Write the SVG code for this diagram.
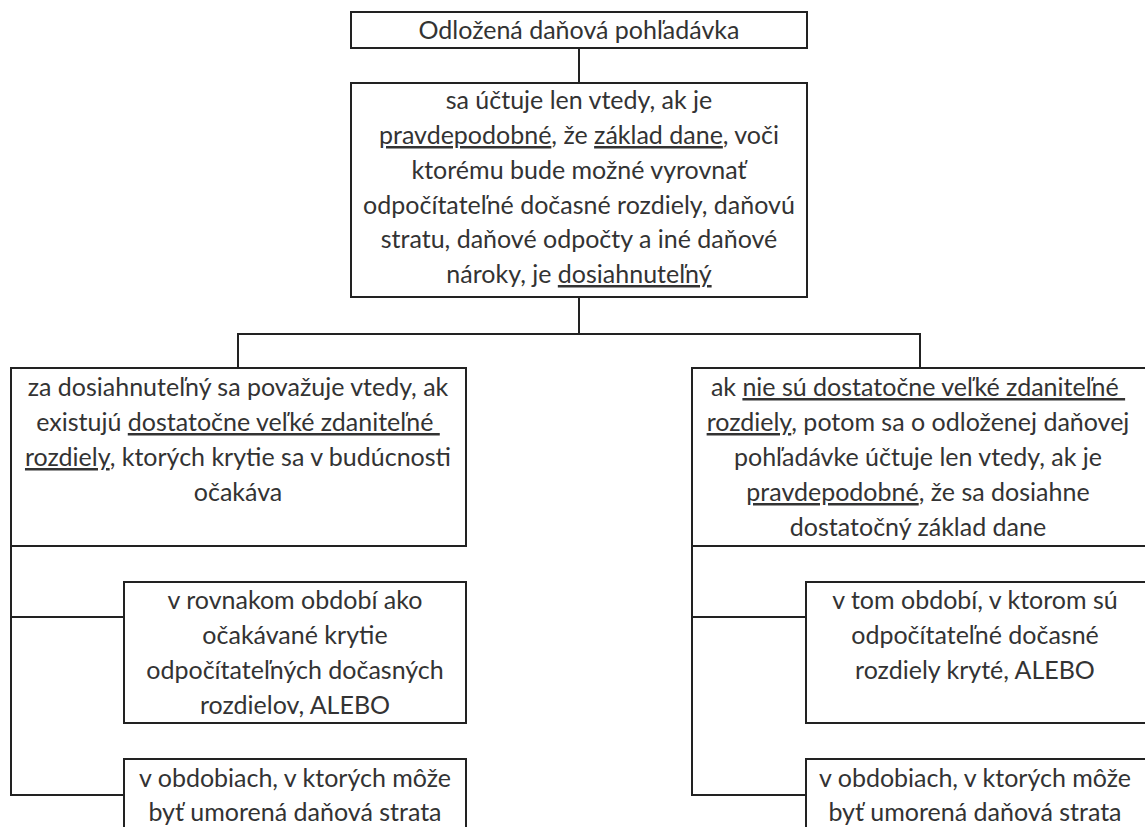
<svg xmlns="http://www.w3.org/2000/svg" width="1145" height="827" viewBox="0 0 1145 827">
<style>
.box{fill:#fff;stroke:#222;stroke-width:2}
.con{fill:none;stroke:#222;stroke-width:2}
text{font-family:Lato,"Liberation Sans",sans-serif;font-size:25px;fill:#333;text-anchor:middle;white-space:pre}
.u{text-decoration:underline}
</style>
<rect width="1145" height="827" fill="#fff"/>
<g id="connectors">
<path class="con" d="M579 48V83"/>
<path class="con" d="M579 297V334M238 368V334H920V368"/>
<path class="con" d="M11 546V795H124M11 617H124"/>
<path class="con" d="M692 546V795H806M692 617H806"/>
</g>
<g id="n1">
<rect class="box" x="351" y="12" width="456" height="36"/>
<text x="579" y="39">Odložená daňová pohľadávka</text>
</g>
<g id="n2">
<rect class="box" x="351" y="83" width="456" height="214"/>
<text x="579" y="109">sa účtuje len vtedy, ak je</text>
<text x="579" y="144"><tspan class="u">pravdepodobné</tspan>, že <tspan class="u">základ dane</tspan>, voči</text>
<text x="579" y="179">ktorému bude možné vyrovnať</text>
<text x="579" y="214">odpočítateľné dočasné rozdiely, daňovú</text>
<text x="579" y="248">stratu, daňové odpočty a iné daňové</text>
<text x="579" y="283">nároky, je <tspan class="u">dosiahnuteľný</tspan></text>
</g>
<g id="n3">
<rect class="box" x="11" y="368" width="455" height="178"/>
<text x="238" y="396">za dosiahnuteľný sa považuje vtedy, ak</text>
<text x="238" y="431">existujú <tspan class="u">dostatočne veľké zdaniteľné </tspan></text>
<text x="238" y="466"><tspan class="u">rozdiely</tspan>, ktorých krytie sa v budúcnosti</text>
<text x="238" y="501">očakáva</text>
</g>
<g id="n4">
<rect class="box" x="692" y="368" width="460" height="178"/>
<text x="918" y="396">ak <tspan class="u">nie sú dostatočne veľké zdaniteľné </tspan></text>
<text x="918" y="431"><tspan class="u">rozdiely</tspan>, potom sa o odloženej daňovej</text>
<text x="918" y="466">pohľadávke účtuje len vtedy, ak je</text>
<text x="918" y="501"><tspan class="u">pravdepodobné</tspan>, že sa dosiahne</text>
<text x="918" y="536">dostatočný základ dane</text>
</g>
<g id="n5">
<rect class="box" x="124" y="582" width="342" height="141"/>
<text x="295" y="609">v rovnakom období ako</text>
<text x="295" y="644">očakávané krytie</text>
<text x="295" y="679">odpočítateľných dočasných</text>
<text x="295" y="714">rozdielov, ALEBO</text>
</g>
<g id="n6">
<rect class="box" x="124" y="759" width="342" height="80"/>
<text x="295" y="787">v obdobiach, v ktorých môže</text>
<text x="295" y="821">byť umorená daňová strata</text>
</g>
<g id="n7">
<rect class="box" x="806" y="582" width="346" height="141"/>
<text x="975" y="609">v tom období, v ktorom sú</text>
<text x="975" y="644">odpočítateľné dočasné</text>
<text x="975" y="679">rozdiely kryté, ALEBO</text>
</g>
<g id="n8">
<rect class="box" x="806" y="759" width="346" height="80"/>
<text x="975" y="787">v obdobiach, v ktorých môže</text>
<text x="975" y="821">byť umorená daňová strata</text>
</g>
</svg>
